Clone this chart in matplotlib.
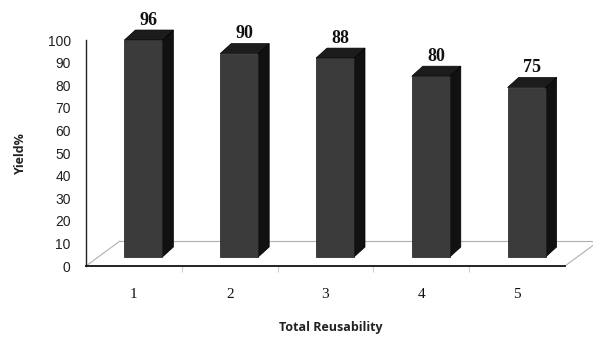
import matplotlib.pyplot as plt
from matplotlib.patches import Polygon

runs = [1, 2, 3, 4, 5]
yields = [96, 90, 88, 80, 75]
y_ticks = list(range(0, 101, 10))

W, H = 593, 337
fig = plt.figure(figsize=(W / 100, H / 100), dpi=100)

# axes box in pixels: front floor line y=266, top of value axis y=40
left_px, right_px, bot_px, top_px = 86, 565, 266, 40
ax = fig.add_axes([left_px / W, 1 - bot_px / H,
                   (right_px - left_px) / W, (bot_px - top_px) / H])
ax.set_xlim(0.5, 5.5)
ax.set_ylim(0, 100)

ux = (right_px - left_px) / 5.0   # px per category
uy = (bot_px - top_px) / 100.0    # px per value unit

# floor (3D look)
fx, fy = 34 / ux, 25 / uy
floor_col = "#b0b0b0"
ax.plot([0.5 + fx, 5.5 + fx], [fy, fy], color=floor_col, lw=0.8, clip_on=False)
ax.plot([0.5, 0.5 + fx], [0, fy], color=floor_col, lw=0.8, clip_on=False)
ax.plot([5.5, 5.5 + fx], [0, fy], color=floor_col, lw=0.8, clip_on=False)

# bars
w = 38 / ux
sx = 9.5 / ux
base = 9 / uy
ddx, ddy = 11 / ux, 10 / uy
for c, v in zip(runs, yields):
    x0 = c - w / 2 + sx
    y0 = base
    front = [(x0, y0), (x0 + w, y0), (x0 + w, y0 + v), (x0, y0 + v)]
    side = [(x0 + w, y0), (x0 + w + ddx, y0 + ddy),
            (x0 + w + ddx, y0 + v + ddy), (x0 + w, y0 + v)]
    top = [(x0, y0 + v), (x0 + ddx, y0 + v + ddy),
           (x0 + w + ddx, y0 + v + ddy), (x0 + w, y0 + v)]
    ax.add_patch(Polygon(side, closed=True, fc="#111111", ec="#000000", lw=0.5, clip_on=False, zorder=3))
    ax.add_patch(Polygon(top, closed=True, fc="#1c1c1c", ec="#000000", lw=0.5, clip_on=False, zorder=3))
    ax.add_patch(Polygon(front, closed=True, fc="#3b3b3b", ec="#1a1a1a", lw=0.5, clip_on=False, zorder=4))
    ax.annotate(str(v), (x0 + w / 2 + ddx / 2, y0 + v + ddy), xytext=(0, 7),
                textcoords="offset points", ha="center", va="center",
                fontsize=13, fontweight="bold", family="Liberation Serif",
                color="#111111", annotation_clip=False)

# axes styling
for s in ["top", "right"]:
    ax.spines[s].set_visible(False)
ax.spines["left"].set_color("#222222")
ax.spines["bottom"].set_color("#111111")
ax.spines["left"].set_linewidth(1.0)
ax.spines["bottom"].set_linewidth(1.3)

ax.set_yticks(y_ticks)
ax.set_yticklabels([str(t) for t in y_ticks], fontsize=10, family="Liberation Sans", color="#222222")
ax.tick_params(axis="y", length=0, pad=11)

ax.set_xticks(runs)
ax.set_xticklabels([str(r) for r in runs], fontsize=11, family="Liberation Serif", color="#111111")
ax.tick_params(axis="x", which="major", length=0, pad=16)
ax.set_xticks([1.5, 2.5, 3.5, 4.5], minor=True)
ax.tick_params(axis="x", which="minor", length=4, color="#d0d0d0", width=0.8)

fig.text(20 / W, 1 - 153 / H, "Yield%", rotation=90, ha="center", va="center",
         fontsize=9, fontweight="bold", family="Open Sans", color="#222222")
fig.text(331 / W, 1 - 328 / H, "Total Reusability", ha="center", va="center",
         fontsize=9, fontweight="bold", family="Open Sans", color="#222222")

fig.savefig("out.png", dpi=100)
